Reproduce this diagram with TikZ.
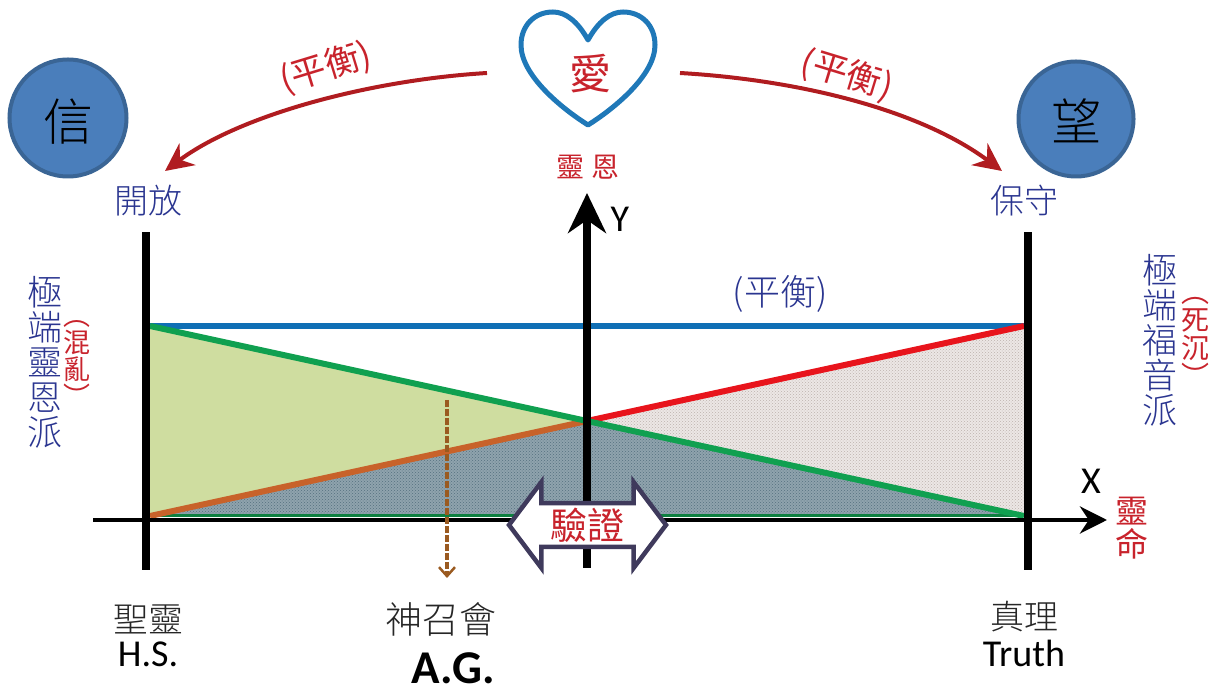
\documentclass[tikz,border=0pt]{standalone}
\usepackage{fontspec}
\setmainfont{Carlito}
\newfontfamily\cjk{Noto Sans CJK TC}[UprightFont=* Light]
\newfontfamily\cjkred{Noto Sans CJK TC}
\usepackage{tikz}
\usetikzlibrary{arrows.meta, shapes.arrows, patterns}
\definecolor{heartblue}{HTML}{1F78B8}
\definecolor{ballfill}{HTML}{4A7EBB}
\definecolor{ballline}{HTML}{3A6595}
\definecolor{arcred}{HTML}{B01C20}
\definecolor{textred}{HTML}{C8232C}
\definecolor{textblue}{HTML}{2A3590}
\definecolor{balance}{HTML}{0F6FB5}
\definecolor{slopegreen}{HTML}{10A050}
\definecolor{slopered}{HTML}{E8141C}
\definecolor{slopeorange}{HTML}{C8622A}
\definecolor{fillgreen}{HTML}{CFDDA0}
\definecolor{fillslate}{HTML}{8FA3AD}
\definecolor{dotslate}{HTML}{55707F}
\definecolor{fillgray}{HTML}{ECE7E5}
\definecolor{dotgray}{HTML}{BDB2AE}
\definecolor{dashbrown}{HTML}{9A5A20}
\definecolor{verifyline}{HTML}{3F3A5C}
\tikzset{
    cjklabel/.style 2 args={inner sep=0, align=center, text=#1,
        font=\cjk\fontsize{#2}{#2}\selectfont},
    redlabel/.style={inner sep=0, align=center, text=textred,
        font=\cjkred\fontsize{#1}{#1}\selectfont},
    latinlabel/.style={inner sep=0, text=#1, font=\fontsize{38}{38}\selectfont},
    ball/.style={draw=ballline, fill=ballfill, line width=4pt},
    arc/.style={arcred, line width=4pt, -{Stealth[length=28pt,width=27pt]}},
}
\begin{document}
\begin{tikzpicture}
    \def\raster{1pt}
    \path[use as bounding box] (0,0) rectangle (1215*\raster,693*\raster);

    \coordinate (BLS) at (146*\raster,123*\raster);
    \coordinate (BLE) at (146*\raster,461*\raster);

    \coordinate (BRS) at (1028*\raster,123*\raster);
    \coordinate (BRE) at (1028*\raster,461*\raster);

    \coordinate (XS) at (93*\raster,173*\raster);
    \coordinate (XE) at (1107*\raster,173*\raster);

    \coordinate (YS) at (587*\raster,125*\raster);
    \coordinate (YE) at (587*\raster,500*\raster);

    \coordinate (TL) at (150*\raster,367*\raster);
    \coordinate (TR) at (1024*\raster,367*\raster);
    \coordinate (ML) at (150*\raster,177*\raster);
    \coordinate (MR) at (1024*\raster,177*\raster);
    \coordinate (PK) at (587*\raster,272*\raster);

    % shaded areas
    \fill[fillgreen] (TL) -- (PK) -- (ML) -- cycle;
    \fill[fillslate] (ML) -- (PK) -- (MR) -- cycle;
    \fill[pattern=crosshatch dots,pattern color=dotslate] (ML) -- (PK) -- (MR) -- cycle;
    \fill[fillgray] (TR) -- (PK) -- (MR) -- cycle;
    \fill[pattern=crosshatch dots,pattern color=dotgray] (TR) -- (PK) -- (MR) -- cycle;

    % slopes
    \draw[balance,line width=5.5pt] (TL) -- (TR);
    \draw[slopegreen!80!black,line width=3pt] (ML) -- (MR);
    \draw[slopered,line width=6pt] (PK) -- (TR);
    \draw[slopeorange,line width=6pt] (ML) -- (PK);
    \draw[slopegreen,line width=6pt] (TL) -- (MR);

    % axes
    \draw[black,line width=8pt] (BLS) -- (BLE);
    \draw[black,line width=8pt] (BRS) -- (BRE);
    \draw[black,line width=4.5pt,-{Stealth[length=27pt,width=27pt]}] (XS) -- (XE);
    \draw[black,line width=8pt,-{Stealth[length=40pt,width=38pt]}] (YS) -- (YE);

    % heart
    \draw[heartblue,line width=5pt,line join=round]
        (588*\raster,653*\raster)
        .. controls (598*\raster,671*\raster) and (610*\raster,681*\raster) .. (623*\raster,681*\raster)
        .. controls (642*\raster,681*\raster) and (655*\raster,667*\raster) .. (655*\raster,648*\raster)
        .. controls (655*\raster,618*\raster) and (615*\raster,585*\raster) .. (588*\raster,568*\raster)
        .. controls (561*\raster,585*\raster) and (521*\raster,618*\raster) .. (521*\raster,648*\raster)
        .. controls (521*\raster,667*\raster) and (534*\raster,681*\raster) .. (553*\raster,681*\raster)
        .. controls (566*\raster,681*\raster) and (578*\raster,671*\raster) .. cycle;

    % balls
    \node[ball,circle,minimum size=117*\raster,inner sep=0] (faith) at (68*\raster,575*\raster) {};
    \node[ball,circle,minimum size=115*\raster,inner sep=0] (hope) at (1076*\raster,574*\raster) {};

    % curved arrows
    \coordinate (ALS) at (487*\raster,620*\raster);
    \coordinate (ALE) at (165*\raster,522*\raster);
    \coordinate (ARS) at (680*\raster,620*\raster);
    \coordinate (ARE) at (1002*\raster,522*\raster);
    \draw[arc] (ALS) .. controls (370*\raster,613*\raster) and (240*\raster,578*\raster) .. (ALE);
    \draw[arc] (ARS) .. controls (800*\raster,613*\raster) and (920*\raster,583*\raster) .. (ARE);

    % dashed arrow
    \coordinate (DS) at (447*\raster,293*\raster);
    \coordinate (DE) at (447*\raster,115*\raster);
    \draw[dashbrown,line width=3.5pt,dash pattern=on 7pt off 2pt,
        -{Straight Barb[length=9pt,width=16pt,line width=2.5pt]}] (DS) -- (DE);

    % verify arrow
    \node[double arrow, draw=verifyline, fill=white, line width=4.5pt, inner sep=0,
        minimum height=157*\raster, minimum width=86*\raster,
        double arrow head extend=19*\raster, double arrow tip angle=106,
        text=textred, font=\cjkred\fontsize{37}{37}\selectfont] (verify) at (587.5*\raster,168*\raster) {驗證};

    % chinese labels
    \foreach \name/\xpos/\ypos/\co/\fsize/\txt in {
        lfaith/68/571/black/50/信,
        lhope/1076/572/black/50/望,
        lopen/148/492/textblue/34/開放,
        lkeep/1024/492/textblue/34/保守,
        lbalance/780/399/textblue/36/(平衡),
        lspirit/148/74/black!85/35/聖靈,
        lgod/441/74/black!85/37/神召會,
        ltruth/1024/76/black!85/34/真理,
        lleft/45/331/textblue/35/極\\端\\靈\\恩\\派,
        lright/1160/353/textblue/35/極\\端\\福\\音\\派}
    {
        \node[cjklabel={\co}{\fsize}] (\name) at (\xpos*\raster,\ypos*\raster) {\txt};
    }

    % red labels
    \foreach \name/\xpos/\ypos/\fsize/\txt in {
        llove/590/619/42/愛,
        lgrace/588/526/28/靈\ 恩,
        lmess/77/329/27/︵\\混\\亂\\︶,
        ldead/1195/351/28/︵\\死\\沉\\︶,
        llife/1132/165/33/靈\\命}
    {
        \node[redlabel=\fsize] (\name) at (\xpos*\raster,\ypos*\raster) {\txt};
    }

    % tilted labels
    \node[redlabel=35,rotate=17] (lbalanceleft) at (326*\raster,625*\raster) {(平衡)};
    \node[redlabel=35,rotate=-17] (lbalanceright) at (847*\raster,618*\raster) {(平衡)};

    % latin labels
    \foreach \name/\xpos/\ypos/\txt in {
        ly/620/474/Y,
        lx/1091/212/X,
        lhs/148/39/H.S.,
        ltr/1024/40/Truth}
    {
        \node[latinlabel=black] (\name) at (\xpos*\raster,\ypos*\raster) {\txt};
    }
    \node[latinlabel=black,font=\bfseries\fontsize{47}{47}\selectfont] (lag) at (453*\raster,25*\raster) {A.G.};
\end{tikzpicture}
\end{document}
